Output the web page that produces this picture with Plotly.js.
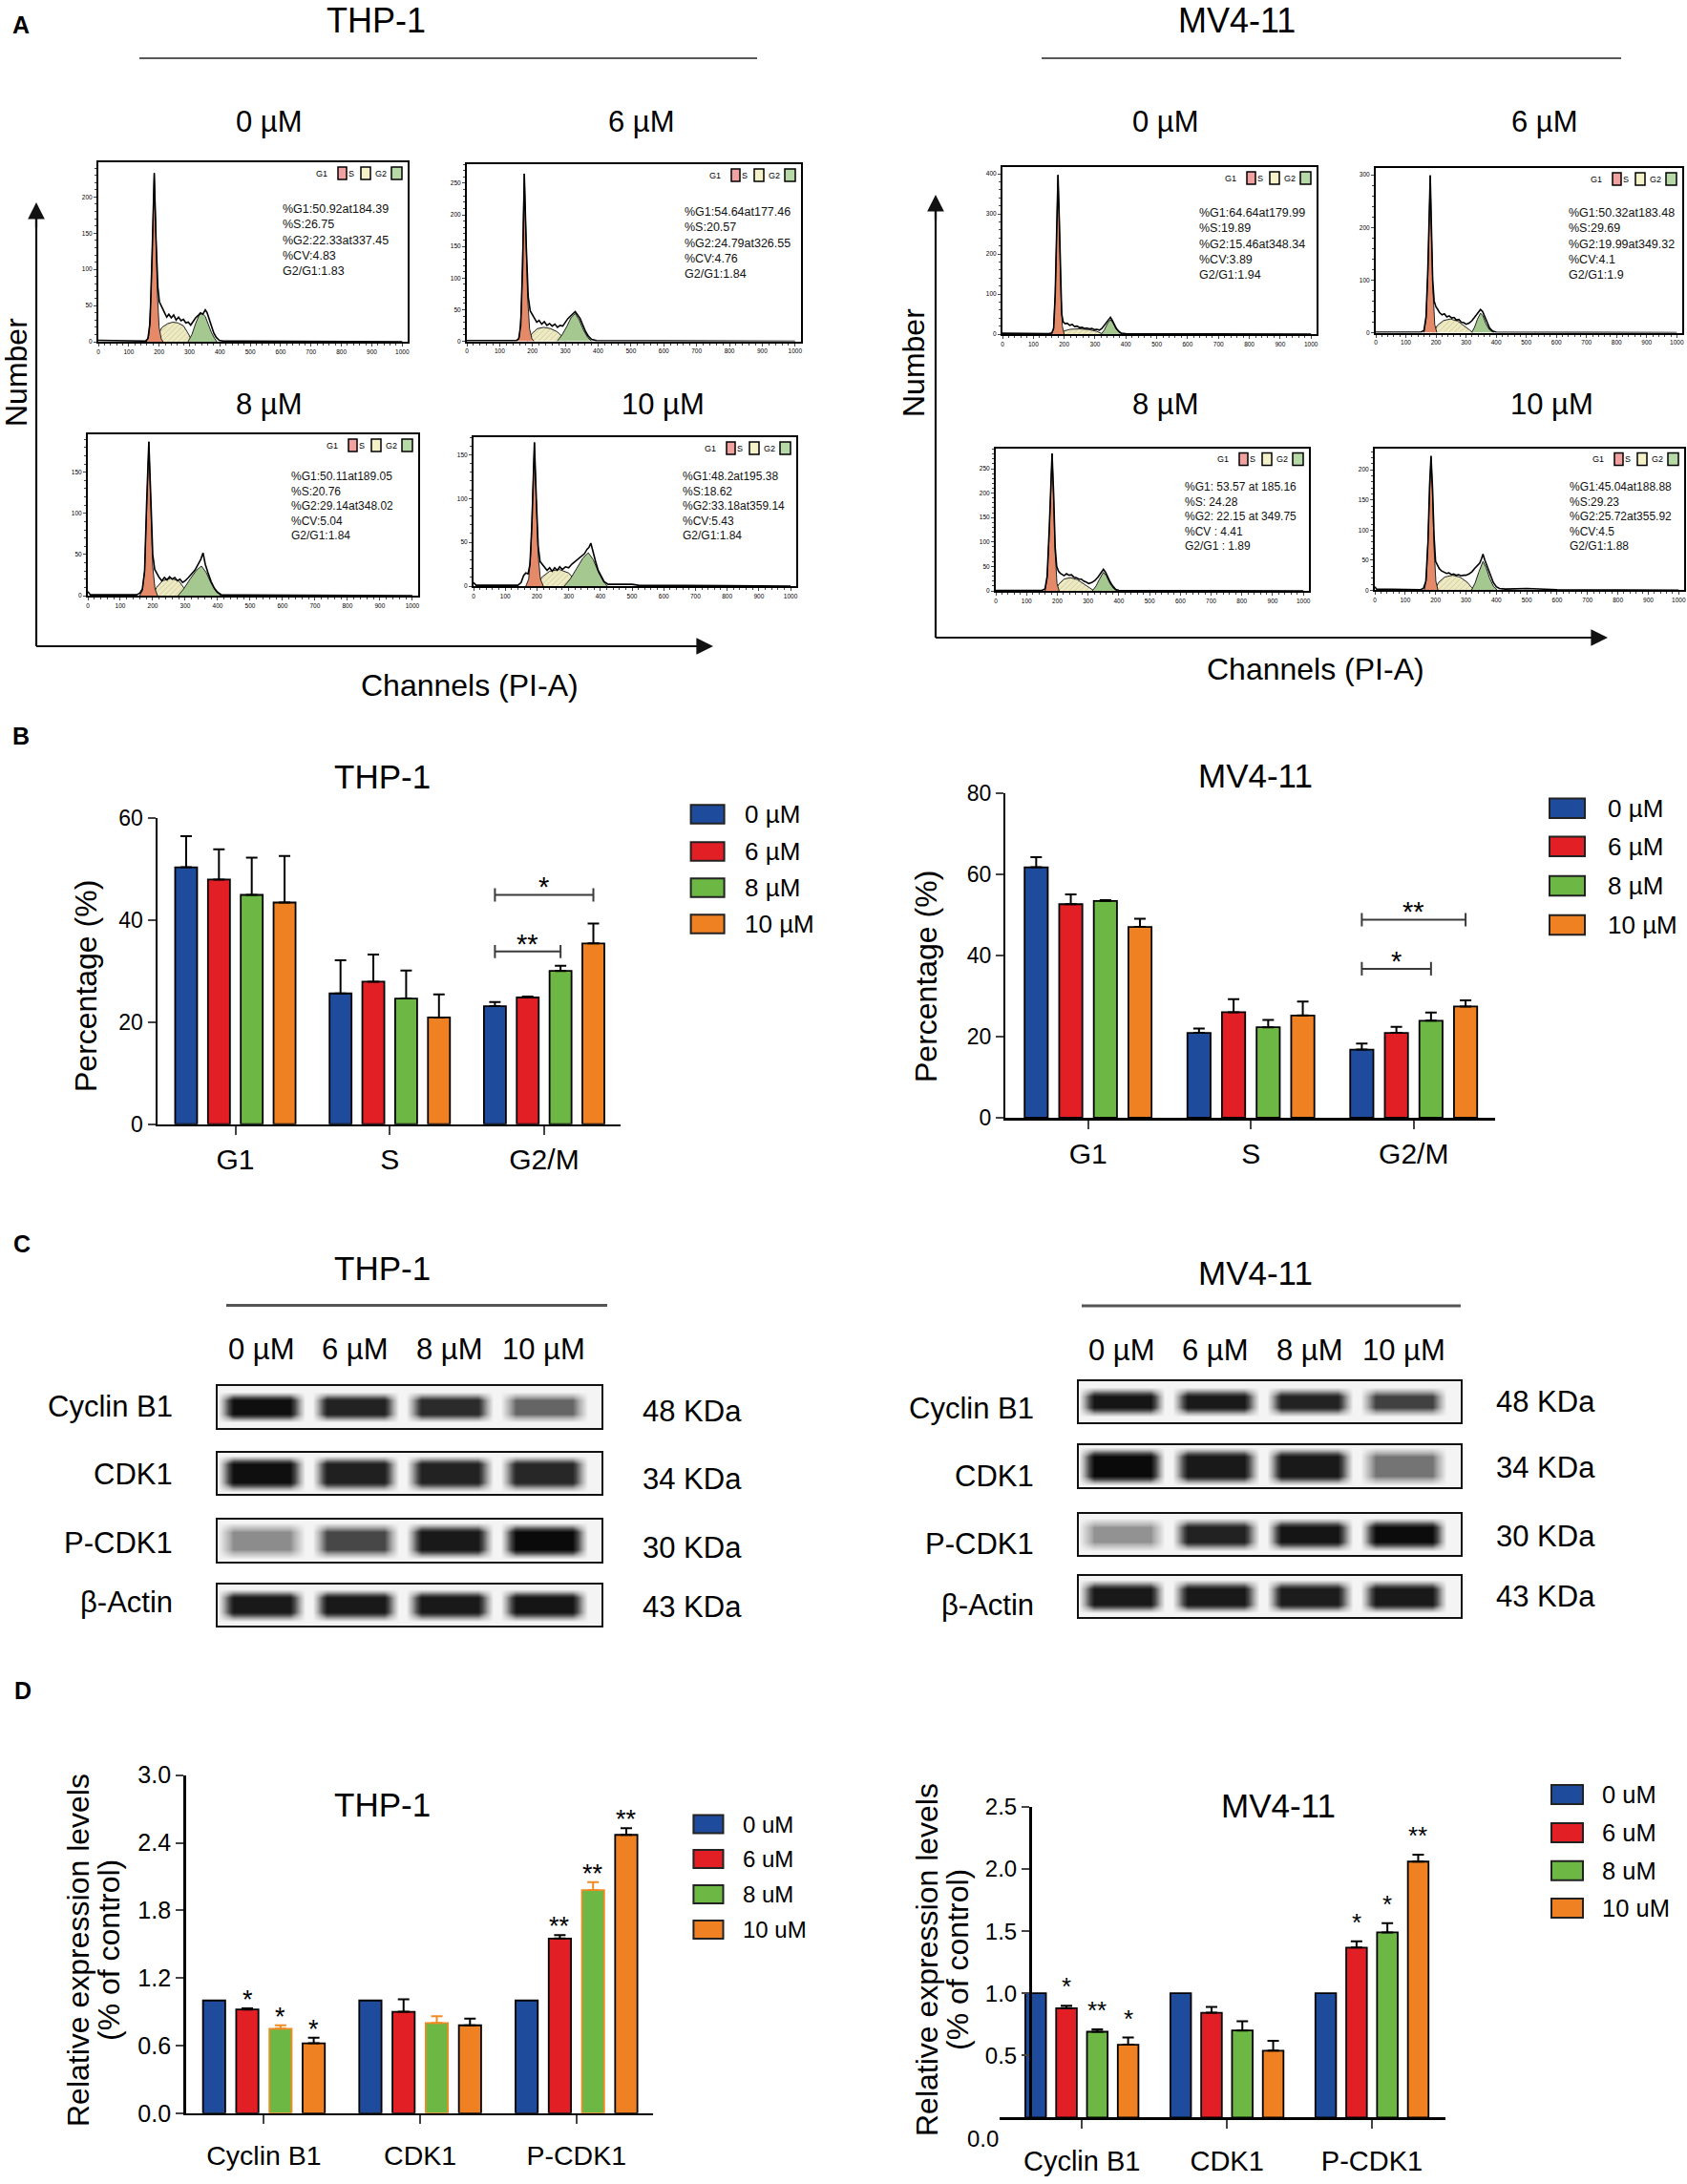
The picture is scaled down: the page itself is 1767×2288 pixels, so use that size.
<!DOCTYPE html>
<html><head><meta charset="utf-8">
<script src="https://cdn.plot.ly/plotly-3.0.1.min.js"></script>
<style>html,body{margin:0;padding:0;background:#fff}</style>
</head><body><div id="chart" style="width:1767px;height:2288px"></div>
<script>
// ================= DATA =================
// Panel A: flow-cytometry histograms: [channel, count]
const thp0_env=[[0,2],[100,1],[155,1],[163,4],[170,25],[177,120],[184,233],[190,140],[196,75],[201,55],[206,50],[212,46],[218,40],[225,34],[232,38],[240,33],[248,37],[256,30],[264,34],[272,29],[280,31],[288,26],[296,27],[304,23],[312,29],[320,33],[328,36],[336,40],[344,38],[352,44],[358,40],[364,32],[372,22],[380,12],[388,6],[398,2],[410,1],[1000,0]];
const thp0_g1=[[158,0],[166,8],[173,60],[179,170],[184,233],[189,160],[194,70],[200,20],[207,4],[213,0]];
const thp0_s=[[182,0],[195,10],[210,20],[228,25],[245,27],[262,26],[280,22],[295,12],[305,3],[310,0]];
const thp0_g2=[[295,0],[308,10],[320,25],[332,37],[342,39],[352,35],[362,24],[372,13],[382,5],[390,0]];
const thp0_stats=['%G1:50.92at184.39','%S:26.75','%G2:22.33at337.45','%CV:4.83','G2/G1:1.83'];

const thp6_env=[[0,1],[150,1],[158,4],[164,25],[170,120],[175,265],[181,150],[187,70],[193,48],[200,42],[206,36],[213,30],[220,33],[228,27],[236,31],[244,25],[252,28],[260,24],[268,27],[276,22],[284,25],[292,24],[300,30],[308,36],[316,40],[324,44],[330,47],[337,42],[345,36],[353,26],[361,16],[370,8],[380,3],[395,1],[1000,0]];
const thp6_g1=[[152,0],[160,6],[166,50],[171,170],[175,265],[180,170],[185,70],[191,20],[198,4],[205,0]];
const thp6_s=[[185,0],[198,12],[215,20],[235,22],[255,20],[275,15],[290,8],[300,0]];
const thp6_g2=[[275,0],[290,10],[305,24],[318,38],[330,44],[342,34],[355,18],[368,6],[380,0]];
const thp6_stats=['%G1:54.64at177.46','%S:20.57','%G2:24.79at326.55','%CV:4.76','G2/G1:1.84'];

const thp8_env=[[0,5],[8,1],[150,1],[160,3],[168,8],[175,30],[181,110],[188,187],[194,120],[200,50],[206,32],[212,27],[220,22],[228,18],[236,22],[244,19],[252,23],[260,20],[268,22],[276,18],[284,20],[292,16],[300,18],[310,22],[320,26],[330,31],[340,38],[348,44],[355,52],[362,38],[370,28],[380,17],[390,9],[400,4],[412,1],[1000,0]];
const thp8_g1=[[160,0],[168,6],[175,30],[182,120],[188,187],[194,110],[200,35],[207,8],[215,0]];
const thp8_s=[[200,0],[212,10],[230,18],[255,21],[280,18],[295,10],[305,3],[312,0]];
const thp8_g2=[[278,0],[295,8],[315,20],[335,31],[350,36],[365,28],[380,15],[395,5],[410,0]];
const thp8_stats=['%G1:50.11at189.05','%S:20.76','%G2:29.14at348.02','%CV:5.04','G2/G1:1.84'];

const thp10_env=[[0,4],[8,1],[140,1],[150,4],[158,12],[165,15],[172,14],[178,25],[184,70],[192,164],[198,100],[204,45],[210,28],[216,25],[224,22],[232,18],[240,21],[248,17],[256,21],[264,18],[272,22],[280,19],[290,22],[300,21],[310,25],[320,28],[330,31],[340,34],[350,37],[358,42],[364,44],[370,49],[377,38],[385,28],[393,18],[402,11],[412,5],[425,2],[500,2],[520,1],[1000,0]];
const thp10_g1=[[165,0],[174,8],[181,40],[186,100],[192,164],[198,95],[204,35],[211,8],[220,0]];
const thp10_s=[[200,0],[215,10],[240,17],[270,19],[300,15],[320,7],[337,0]];
const thp10_g2=[[286,0],[305,8],[325,20],[345,32],[362,38],[378,30],[395,15],[410,5],[422,0]];
const thp10_stats=['%G1:48.2at195.38','%S:18.62','%G2:33.18at359.14','%CV:5.43','G2/G1:1.84'];

const mv0_env=[[0,2],[150,1],[160,3],[166,15],[171,100],[176,290],[180,397],[184,290],[188,140],[192,50],[197,30],[203,26],[210,27],[218,22],[226,24],[234,19],[242,20],[250,16],[258,17],[266,14],[274,15],[282,13],[290,14],[298,11],[306,12],[314,10],[322,14],[330,22],[338,30],[344,36],[350,42],[356,34],[362,24],[369,14],[377,7],[386,2],[400,1],[1000,0]];
const mv0_g1=[[158,0],[165,10],[171,100],[176,290],[180,397],[184,290],[189,110],[194,20],[200,0]];
const mv0_s=[[188,0],[200,8],[220,12],[250,13],[280,11],[305,7],[320,2],[328,0]];
const mv0_g2=[[320,0],[330,10],[340,26],[350,36],[358,28],[367,14],[378,4],[390,0]];
const mv0_stats=['%G1:64.64at179.99','%S:19.89','%G2:15.46at348.34','%CV:3.89','G2/G1:1.94'];

const mv6_env=[[0,1],[150,1],[160,4],[167,30],[173,120],[177,220],[181,299],[185,200],[189,100],[194,60],[200,49],[206,44],[212,38],[220,34],[228,36],[236,30],[244,32],[252,28],[260,29],[268,24],[276,25],[284,20],[292,19],[300,16],[310,18],[320,23],[330,31],[340,39],[348,44],[355,40],[362,30],[370,18],[378,9],[388,3],[400,1],[1000,0]];
const mv6_g1=[[160,0],[167,25],[173,110],[177,210],[181,299],[185,190],[190,80],[196,15],[203,0]];
const mv6_s=[[190,0],[205,14],[225,23],[248,26],[272,22],[295,13],[312,5],[322,0]];
const mv6_g2=[[318,0],[328,10],[338,26],[348,37],[356,32],[365,18],[377,6],[392,0]];
const mv6_stats=['%G1:50.32at183.48','%S:29.69','%G2:19.99at349.32','%CV:4.1','G2/G1:1.9'];

const mv8_env=[[0,1],[150,1],[160,4],[167,30],[174,130],[179,230],[183,281],[188,200],[193,90],[198,50],[204,40],[210,36],[216,33],[222,31],[230,35],[238,32],[246,33],[254,28],[262,27],[270,24],[278,24],[286,20],[294,18],[302,15],[312,17],[322,21],[332,28],[341,35],[350,44],[357,38],[364,28],[372,18],[380,10],[390,3],[400,1],[1000,0]];
const mv8_g1=[[160,0],[167,25],[174,120],[179,220],[183,281],[188,190],[193,80],[199,15],[206,0]];
const mv8_s=[[192,0],[205,14],[222,24],[242,27],[265,23],[290,13],[308,5],[320,0]];
const mv8_g2=[[314,0],[326,10],[338,25],[350,38],[360,30],[372,14],[384,4],[395,0]];
const mv8_stats=['%G1: 53.57 at 185.16','%S: 24.28','%G2: 22.15 at 349.75','%CV : 4.41','G2/G1 : 1.89'];

const mv10_env=[[0,6],[6,2],[150,1],[160,3],[168,15],[175,80],[180,170],[185,223],[190,170],[195,90],[200,48],[206,42],[212,36],[220,32],[228,30],[236,28],[244,29],[252,26],[260,27],[268,25],[276,26],[284,24],[292,25],[300,25],[310,27],[320,31],[330,37],[338,41],[345,45],[351,52],[356,60],[362,50],[368,42],[375,32],[382,22],[390,13],[400,6],[410,3],[430,2],[500,3],[600,1],[1000,0]];
const mv10_g1=[[163,0],[170,20],[176,100],[181,180],[185,223],[190,160],[195,70],[201,15],[208,0]];
const mv10_s=[[195,0],[210,13],[230,22],[255,25],[280,22],[305,13],[318,5],[328,0]];
const mv10_g2=[[318,0],[330,12],[342,30],[356,48],[366,38],[378,20],[390,7],[404,0]];
const mv10_stats=['%G1:45.04at188.88','%S:29.23','%G2:25.72at355.92','%CV:4.5','G2/G1:1.88'];

const histYMax=[248,280,196,170,417,313,292,236];
const histYStep=[50,50,50,50,100,100,50,50];
const histXTicks=[0,100,200,300,400,500,600,700,800,900,1000];
const concUM=['0 µM','6 µM','8 µM','10 µM'];
const concU=['0 uM','6 uM','8 uM','10 uM'];
const cellLines=['THP-1','MV4-11'];

// Panel B: cell-cycle phase percentages (mean, upper SD)
const phaseCats=['G1','S','G2/M'];
const thpB_0=[50.3,25.6,23.1],  thpB_0err=[6.1,6.5,0.8];
const thpB_6=[47.9,27.9,24.8],  thpB_6err=[5.9,5.3,0.2];
const thpB_8=[44.9,24.6,30.0],  thpB_8err=[7.3,5.5,1.0];
const thpB_10=[43.4,20.9,35.4], thpB_10err=[9.1,4.5,3.9];
const mvB_0=[61.7,20.9,16.8],  mvB_0err=[2.5,1.1,1.5];
const mvB_6=[52.6,26.0,20.9],  mvB_6err=[2.4,3.2,1.5];
const mvB_8=[53.4,22.3,23.9],  mvB_8err=[0.2,1.8,2.0];
const mvB_10=[47.0,25.2,27.4], mvB_10err=[2.0,3.4,1.5];
const thpB_sig=[{cat:2,from:0,to:3,y:44.9,label:'*'},{cat:2,from:0,to:2,y:33.8,label:'**'}];
const mvB_sig=[{cat:2,from:0,to:3,y:48.8,label:'**'},{cat:2,from:0,to:2,y:36.7,label:'*'}];

// Panel C: western blot band intensities (0..1) per row, lanes 0/6/8/10 µM
const blotRows=['Cyclin B1','CDK1','P-CDK1','β-Actin'];
const blotKDa=['48 KDa','34 KDa','30 KDa','43 KDa'];
const thpBand_cyclinB1=[0.95,0.85,0.80,0.55];
const thpBand_cdk1=[0.95,0.86,0.85,0.82];
const thpBand_pcdk1=[0.42,0.65,0.90,0.98];
const thpBand_actin=[0.90,0.90,0.90,0.92];
const mvBand_cyclinB1=[0.92,0.90,0.85,0.68];
const mvBand_cdk1=[0.98,0.90,0.90,0.50];
const mvBand_pcdk1=[0.40,0.85,0.92,0.97];
const mvBand_actin=[0.90,0.90,0.88,0.90];

// Panel D: relative expression (mean, upper SD) and significance marks
const proteinCats=['Cyclin B1','CDK1','P-CDK1'];
const thpD_0=[1.00,1.00,1.00],  thpD_0err=[0,0,0];
const thpD_6=[0.92,0.90,1.55],  thpD_6err=[0.01,0.11,0.03];
const thpD_8=[0.75,0.80,1.98],  thpD_8err=[0.03,0.06,0.07];
const thpD_10=[0.62,0.78,2.47], thpD_10err=[0.05,0.06,0.06];
const thpD_sig=[['','',''],['*','','**'],['*','','**'],['*','','**']];
const mvD_0=[1.00,1.00,1.00],   mvD_0err=[0,0,0];
const mvD_6=[0.88,0.843,1.368], mvD_6err=[0.02,0.047,0.05];
const mvD_8=[0.69,0.70,1.49],   mvD_8err=[0.02,0.074,0.074];
const mvD_10=[0.586,0.538,2.06],mvD_10err=[0.058,0.08,0.055];
const mvD_sig=[['','',''],['*','','*'],['**','','*'],['*','','**']];

const seriesColors=['#1F4B9C','#E31F26','#6DB844','#EF8123'];

// ================= BUILD =================
const W=1767,H=2288;
const FONT='Liberation Sans, Arial, Helvetica, sans-serif';
const px=x=>x/W, py=y=>1-y/H;
const traces=[], annotations=[], shapes=[];
const layout={width:W,height:H,margin:{l:0,r:0,t:0,b:0},paper_bgcolor:'#fff',plot_bgcolor:'rgba(0,0,0,0)',
  showlegend:false,barmode:'group',bargap:0.15,bargroupgap:0.33,font:{family:FONT,color:'#000'},
  annotations:annotations,shapes:shapes};
const sfx=n=>n===1?'':String(n);
function setAxes(n,xcfg,ycfg){
  layout['xaxis'+sfx(n)]=Object.assign({anchor:'y'+sfx(n),showgrid:false,zeroline:false,fixedrange:true},xcfg);
  layout['yaxis'+sfx(n)]=Object.assign({anchor:'x'+sfx(n),showgrid:false,zeroline:false,fixedrange:true},ycfg);
}
function txt(x,y,text,size,opt){annotations.push(Object.assign({xref:'paper',yref:'paper',x:px(x),y:py(y),text:text,showarrow:false,font:{size:size,family:FONT,color:'#000'},xanchor:'center',yanchor:'middle'},opt||{}));}
function line(x0,y0,x1,y1,color,w){shapes.push({type:'line',xref:'paper',yref:'paper',x0:px(x0),y0:py(y0),x1:px(x1),y1:py(y1),line:{color:color,width:w}});}
function arrow(hx,hy,tx,ty){annotations.push({xref:'paper',yref:'paper',x:px(hx),y:py(hy),ax:tx-hx,ay:ty-hy,axref:'pixel',ayref:'pixel',text:'',showarrow:true,arrowhead:2,arrowsize:1.6,arrowwidth:2.2,arrowcolor:'#111',standoff:0,startstandoff:0});}

// ---------- Panel A ----------
const hists=[
 {env:thp0_env,g1:thp0_g1,s:thp0_s,g2:thp0_g2,stats:thp0_stats},
 {env:thp6_env,g1:thp6_g1,s:thp6_s,g2:thp6_g2,stats:thp6_stats},
 {env:thp8_env,g1:thp8_g1,s:thp8_s,g2:thp8_g2,stats:thp8_stats},
 {env:thp10_env,g1:thp10_g1,s:thp10_s,g2:thp10_g2,stats:thp10_stats},
 {env:mv0_env,g1:mv0_g1,s:mv0_s,g2:mv0_g2,stats:mv0_stats},
 {env:mv6_env,g1:mv6_g1,s:mv6_s,g2:mv6_g2,stats:mv6_stats},
 {env:mv8_env,g1:mv8_g1,s:mv8_s,g2:mv8_g2,stats:mv8_stats},
 {env:mv10_env,g1:mv10_g1,s:mv10_s,g2:mv10_g2,stats:mv10_stats}];
const frames=[
 {x0:103,x1:427,y0:170,y1:358,sr:133,st:49,fs:12.5},
 {x0:489,x1:839,y0:172,y1:357.5,sr:124,st:50,fs:12.5},
 {x0:92,x1:438,y0:455,y1:624,sr:135,st:44,fs:12},
 {x0:496,x1:834,y0:458,y1:614,sr:121,st:41,fs:12},
 {x0:1050,x1:1379,y0:175,y1:350,sr:125,st:48,fs:12.5},
 {x0:1441,x1:1762,y0:176,y1:348.5,sr:121,st:47,fs:12.5},
 {x0:1043,x1:1371,y0:469.5,y1:619,sr:132,st:40,fs:12},
 {x0:1440,x1:1764,y0:469.5,y1:618.4,sr:122,st:40,fs:12}];
hists.forEach((h,i)=>{
  const n=i+1,f=frames[i],xa='x'+sfx(n),ya='y'+sfx(n);
  setAxes(n,{domain:[px(f.x0),px(f.x1)],range:[0,1018],showline:true,mirror:true,linecolor:'#000',linewidth:2,
      ticks:'outside',ticklen:3,tickwidth:1,tickvals:histXTicks,tickfont:{size:6.5,family:FONT},
      minor:{dtick:20,ticks:'outside',ticklen:2,tickwidth:1}},
    {domain:[py(f.y1),py(f.y0)],range:[0,histYMax[i]],showline:true,mirror:true,linecolor:'#000',linewidth:2,
      ticks:'outside',ticklen:3,tickwidth:1,dtick:histYStep[i],tickfont:{size:6.5,family:FONT},
      minor:{dtick:histYStep[i]/5,ticks:'outside',ticklen:2,tickwidth:1}});
  const comp=(pts,color,pat)=>{const t={type:'scatter',mode:'lines',x:pts.map(p=>p[0]),y:pts.map(p=>p[1]),fill:'tozeroy',fillcolor:color,
      line:{color:'#222',width:1},xaxis:xa,yaxis:ya,hoverinfo:'skip'}; if(pat) t.fillpattern=pat; return t;};
  traces.push(comp(h.s,'#EEEAC2',{shape:'/',bgcolor:'#EEEAC2',fgcolor:'#B9B48A',size:4,solidity:0.15}));
  traces.push(comp(h.g2,'#A4C890'));
  traces.push(comp(h.g1,'#E58A69'));
  traces.push({type:'scatter',mode:'lines',x:h.env.map(p=>p[0]),y:h.env.map(p=>p[1]),line:{color:'#000',width:1.6},xaxis:xa,yaxis:ya,hoverinfo:'skip'});
  annotations.push({xref:'paper',yref:'paper',x:px(f.x1-f.sr),y:py(f.y0+f.st-9),xanchor:'left',yanchor:'top',align:'left',
    text:h.stats.join('<br>'),showarrow:false,font:{size:f.fs,family:FONT,color:'#111'}});
  const R=f.x1,T=f.y0;
  const legItems=[{t:'G1',tx:-90,b0:-73,b1:-64,c:'#F2A1A1'},{t:'S',tx:-59,b0:-49,b1:-39,c:'#F5F2C9'},{t:'G2',tx:-28,b0:-17,b1:-6,c:'#B7D8A7'}];
  legItems.forEach(L=>{
    txt(R+L.tx,T+12,L.t,9);
    shapes.push({type:'rect',xref:'paper',yref:'paper',x0:px(R+L.b0),x1:px(R+L.b1),y0:py(T+18),y1:py(T+5),fillcolor:L.c,line:{color:'#000',width:1.5}});
  });
});
txt(22,26,'<b>A</b>',25);
txt(394,22,cellLines[0],36); txt(1295,22,cellLines[1],36);
line(146,61,793,61,'#222',1.5); line(1091,61,1698,61,'#222',1.5);
[[282,127,0],[672,127,1],[282,423,2],[694,423,3],[1221,127,0],[1618,127,1],[1221,423,2],[1625,423,3]].forEach(c=>txt(c[0],c[1],concUM[c[2]],31));
txt(17,390,'Number',32,{textangle:-90}); txt(957,380,'Number',32,{textangle:-90});
txt(492,718,'Channels (PI-A)',32); txt(1378,701,'Channels (PI-A)',32);
line(38,677,38,222,'#111',2.2); line(38,677,737,677,'#111',2.2);
arrow(38,212,38,240); arrow(747,677,720,677);
line(980,668,980,214,'#111',2.2); line(980,668,1674,668,'#111',2.2);
arrow(980,204,980,232); arrow(1684,668,1657,668);

// ---------- bar panel helpers ----------
function barPanel(n,vals,errs,opt){
  const slot=(1-layout.bargap)/4, xa='x'+sfx(n), ya='y'+sfx(n);
  vals.forEach((v,k)=>{
    const hasErr=errs[k].some(e=>e>0);
    const edge=opt.edges?opt.edges[k]:'#000';
    traces.push({type:'bar',x:[0,1,2],y:v,xaxis:xa,yaxis:ya,hoverinfo:'skip',
      marker:{color:seriesColors[k],line:{color:edge,width:1.8}},
      error_y:{type:'data',array:errs[k],arrayminus:[0,0,0],symmetric:false,visible:hasErr,color:opt.errColors?opt.errColors[k]:'#000',thickness:2,width:6}});
    if(opt.sig) opt.sig[k].forEach((s,c)=>{ if(!s) return;
      annotations.push({xref:xa,yref:ya,x:c+(k-1.5)*slot,y:v[c]+errs[k][c],text:s,showarrow:false,xanchor:'center',yanchor:'bottom',yshift:opt.starShift,font:{size:opt.starSize,family:FONT,color:'#000'}});});
  });
}
function brackets(n,list,tickHalf,starSize,starShift){
  const slot=(1-layout.bargap)/4, xa='x'+sfx(n), ya='y'+sfx(n), xs=[], ys=[];
  list.forEach(b=>{
    const x0=b.cat+(b.from-1.5)*slot, x1=b.cat+(b.to-1.5)*slot;
    xs.push(x0,x0,null,x0,x1,null,x1,x1,null);
    ys.push(b.y-tickHalf,b.y+tickHalf,null,b.y,b.y,null,b.y-tickHalf,b.y+tickHalf,null);
    annotations.push({xref:xa,yref:ya,x:(x0+x1)/2,y:b.y,text:b.label,showarrow:false,yanchor:'bottom',yshift:starShift,font:{size:starSize,family:FONT,color:'#000'}});
  });
  traces.push({type:'scatter',mode:'lines',x:xs,y:ys,xaxis:xa,yaxis:ya,line:{color:'#3a3a3a',width:2},hoverinfo:'skip'});
}
function legendBox(x0,x1,h,ycs,tx,size,labels,edges){
  ycs.forEach((yc,k)=>{
    shapes.push({type:'rect',xref:'paper',yref:'paper',x0:px(x0),x1:px(x1),y0:py(yc+h/2),y1:py(yc-h/2),fillcolor:seriesColors[k],line:{color:edges?edges[k]:'#222',width:2}});
    txt(tx,yc,labels[k],size,{xanchor:'left'});
  });
}
const catAxis=(dom,range,ticktext,fs,standoff)=>({domain:dom,range:range,showline:true,linecolor:'#000',linewidth:2.5,ticks:'outside',ticklen:9,tickwidth:2,
  tickvals:[0,1,2],ticktext:ticktext,tickfont:{size:fs,family:FONT},ticklabelstandoff:standoff});
const valAxis=(dom,range,extra,fs)=>Object.assign({domain:dom,range:range,showline:true,linecolor:'#000',linewidth:2.5,ticks:'outside',ticklen:8,tickwidth:2,tickfont:{size:fs,family:FONT}},extra);

// ---------- Panel B ----------
txt(22,771,'<b>B</b>',25);
setAxes(9,catAxis([px(165),px(650)],[-0.504,2.495],phaseCats,30,0),valAxis([py(1177.7),py(856.7)],[0,60],{dtick:20},23));
barPanel(9,[thpB_0,thpB_6,thpB_8,thpB_10],[thpB_0err,thpB_6err,thpB_8err,thpB_10err],{});
brackets(9,thpB_sig,1.3,29,-10);
txt(400,813,cellLines[0],35); txt(90,1033,'Percentage (%)',32,{textangle:-90});
legendBox(723.6,758.6,19.5,[853,892,930,968],778,26,concUM);

setAxes(10,catAxis([px(1053.4),px(1566)],[-0.506,2.50],phaseCats,30,0),valAxis([py(1171),py(830.7)],[0,80],{dtick:20},23));
barPanel(10,[mvB_0,mvB_6,mvB_8,mvB_10],[mvB_0err,mvB_6err,mvB_8err,mvB_10err],{});
brackets(10,mvB_sig,1.65,29,-10);
txt(1315,812,cellLines[1],35); txt(970,1023,'Percentage (%)',32,{textangle:-90});
legendBox(1623,1660,20.5,[846.7,886.7,928,969],1681.6,26,concUM);

// ---------- Panel C ----------
txt(23,1303,'<b>C</b>',25);
function bandHeat(intens,thick,xa,ya){
  const xs=[-0.7],zc=[0];
  intens.forEach((v,i)=>{xs.push(i-0.46,i-0.30,i+0.30,i+0.46);zc.push(0,v,v,0);});
  xs.push(3.9);zc.push(0);
  const h=thick/2, ys=[-0.2,0.5-h-0.16,0.5-h+0.06,0.5+h-0.06,0.5+h+0.16,1.2], mul=[0,0,1,1,0,0];
  return {type:'heatmap',x:xs,y:ys,z:mul.map(m=>zc.map(c=>c*m)),zsmooth:'best',zmin:0,zmax:1,showscale:false,
    colorscale:[[0,'#f4f4f4'],[0.3,'#b0b0b0'],[0.65,'#474747'],[1,'#060606']],xaxis:xa,yaxis:ya,hoverinfo:'skip'};
}
const blotSets=[
 {bands:[thpBand_cyclinB1,thpBand_cdk1,thpBand_pcdk1,thpBand_actin],thick:[0.42,0.56,0.54,0.46],x0:228.4,x1:630,
  rows:[[1452,1496],[1521.8,1565],[1592,1635.6],[1659.6,1703]],labR:183,labY:[1473,1544,1616,1678.5],kdX:671,kdY:[1478,1549,1621,1683],
  title:[400,1328.5],lineY:1367.6,lineX:[237,636],laneY:1413,n0:11},
 {bands:[mvBand_cyclinB1,mvBand_cdk1,mvBand_pcdk1,mvBand_actin],thick:[0.38,0.58,0.48,0.48],x0:1130,x1:1530,
  rows:[[1447,1490],[1514,1557.7],[1586,1629],[1650.6,1694]],labR:1084.7,labY:[1475,1546,1617,1681.5],kdX:1565,kdY:[1468,1537,1609,1672],
  title:[1315,1333],lineY:1368,lineX:[1133,1530],laneY:1414,n0:15}];
blotSets.forEach((B,bi)=>{
  B.bands.forEach((row,r)=>{
    const n=B.n0+r;
    setAxes(n,{domain:[px(B.x0),px(B.x1)],range:[-0.46,3.61],showline:true,mirror:true,linecolor:'#111',linewidth:2,showticklabels:false,ticks:''},
      {domain:[py(B.rows[r][1]),py(B.rows[r][0])],range:[0,1],showline:true,mirror:true,linecolor:'#111',linewidth:2,showticklabels:false,ticks:''});
    traces.push(bandHeat(row,B.thick[r],'x'+sfx(n),'y'+sfx(n)));
    txt(B.labR,B.labY[r],blotRows[r],31,{xanchor:'right'});
    txt(B.kdX,B.kdY[r],blotKDa[r],31,{xanchor:'left'});
  });
  txt(B.title[0],B.title[1],cellLines[bi],35);
  line(B.lineX[0],B.lineY,B.lineX[1],B.lineY,'#555',3);
  concUM.forEach((c,i)=>annotations.push({xref:'x'+sfx(B.n0),yref:'paper',x:i,y:py(B.laneY),text:c,showarrow:false,font:{size:31,family:FONT,color:'#000'}}));
});

// ---------- Panel D ----------
txt(24,1771,'<b>D</b>',25);
setAxes(19,catAxis([px(194.6),px(684)],[-0.5,2.49],proteinCats,28.5,8),
  valAxis([py(2213.8),py(1859.7)],[0,3.0],{tickvals:[0,0.6,1.2,1.8,2.4,3.0],tickformat:'.1f'},25));
barPanel(19,[thpD_0,thpD_6,thpD_8,thpD_10],[thpD_0err,thpD_6err,thpD_8err,thpD_10err],
  {sig:thpD_sig,starSize:27,starShift:-8,edges:['#000','#000','#F08A24','#000'],errColors:['#000','#000','#F08A24','#000']});
txt(400.5,1890,cellLines[0],35);
txt(82,2043,'Relative expression levels',32,{textangle:-90}); txt(114,2043,'(% of control)',32,{textangle:-90});
legendBox(726.4,757.5,19,[1911,1947.6,1984.5,2021.4],775.5,24,concU);

setAxes(20,Object.assign(catAxis([px(1046.6),px(1513.9)],[-0.57,2.506],proteinCats,29,9),{anchor:'y20'}),
  valAxis([py(2218.3),py(1893)],[0,2.5],{tickvals:[0.5,1.0,1.5,2.0,2.5],tickformat:'.1f',anchor:'free',position:px(1079)},24));
barPanel(20,[mvD_0,mvD_6,mvD_8,mvD_10],[mvD_0err,mvD_6err,mvD_8err,mvD_10err],{sig:mvD_sig,starSize:26,starShift:3});
txt(1339,1891,cellLines[1],35);
txt(971,2053,'Relative expression levels',32,{textangle:-90}); txt(1003,2053,'(% of control)',32,{textangle:-90});
txt(1029,2240,'0.0',24);
legendBox(1625,1658,20,[1880,1920,1959.7,1999],1676,25.5,concU);

Plotly.newPlot('chart',traces,layout,{staticPlot:true,displayModeBar:false});
</script></body></html>
